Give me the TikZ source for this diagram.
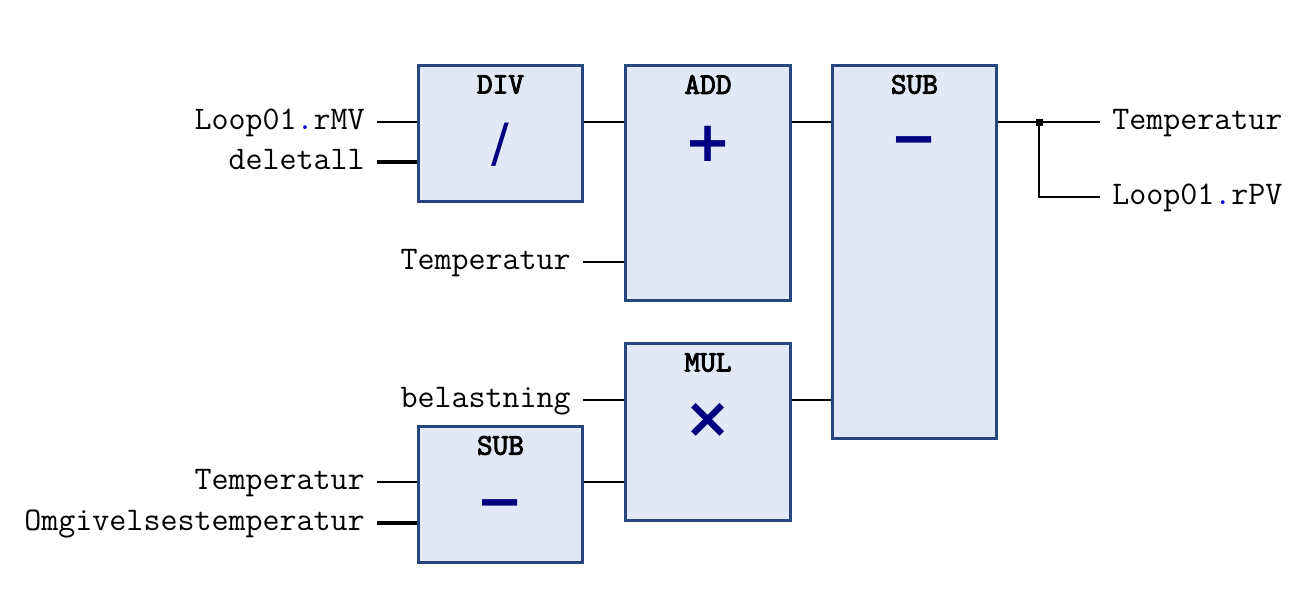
\documentclass[tikz,border=0pt]{standalone}
\usepackage{fontspec}
\newfontfamily\opfont{DejaVu Sans}
\newfontfamily\titlefont{lmmono10-regular}[Extension=.otf,FakeBold=3]
\usetikzlibrary{positioning,calc}
\definecolor{blockfill}{RGB}{225,233,246}
\definecolor{blockline}{RGB}{38,70,125}
\definecolor{opnavy}{RGB}{0,0,128}
\definecolor{dotblue}{RGB}{0,0,230}
\newcommand{\dotb}{\textcolor{dotblue}{.}}
\tikzset{
  fblock/.style={draw=blockline,line width=1.7pt,fill=blockfill,minimum width=3.3cm,inner sep=0pt},
  ftitle/.style={font=\titlefont\fontsize{17}{20}\selectfont,inner sep=0pt},
  fop/.style={font=\opfont\bfseries\fontsize{32}{36}\selectfont,text=opnavy,inner sep=0pt},
  pin/.style={font=\ttfamily\fontsize{18.8}{22}\selectfont,inner xsep=0.24cm,inner ysep=0pt,text height=14pt,text depth=6pt},
  wire/.style={draw=black,line width=1.1pt},
  fatwire/.style={draw=black,line width=2pt},
  junction/.style={fill=black,minimum size=0.14cm,inner sep=0pt}
}
\begin{document}
\begin{tikzpicture}[x=0.02cm,y=-0.02cm]
  \useasboundingbox (0,0) rectangle (1306,592);

  % function blocks
  \node[fblock,minimum height=2.74cm] (div) at (500.5,133.5) {};
  \node[fblock,minimum width=3.32cm,minimum height=4.72cm] (add) at (708,183) {};
  \node[fblock,minimum height=7.48cm] (sub) at (914.5,252) {};
  \node[fblock,minimum width=3.32cm,minimum height=3.56cm] (mul) at (708,432) {};
  \node[fblock,minimum height=2.74cm] (subt) at (500.5,494.5) {};

  % titles and operators
  \node[ftitle] (div-t) at ([yshift=-0.42cm]div.north) {DIV};
  \node[ftitle] (add-t) at ([yshift=-0.42cm]add.north) {ADD};
  \node[ftitle] (sub-t) at ([yshift=-0.42cm]sub.north) {SUB};
  \node[ftitle] (mul-t) at ([yshift=-0.42cm]mul.north) {MUL};
  \node[ftitle] (subt-t) at ([yshift=-0.42cm]subt.north) {SUB};
  \node[fop,font=\opfont\fontsize{30}{34}\selectfont] (div-o) at ([yshift=-1.63cm]div.north) {/};
  \node[fop] (add-o) at ([yshift=-1.6cm]add.north) {+};
  \node[fop] (sub-o) at ([yshift=-1.68cm]sub.north) {−};
  \node[fop] (mul-o) at ([yshift=-1.58cm]mul.north) {×};
  \node[fop] (subt-o) at ([yshift=-1.72cm]subt.north) {−};

  % inputs and outputs
  \node[pin,anchor=east] (mv) at (377,122) {Loop01\dotb rMV};
  \node[pin,anchor=east] (delt) at (377,162) {deletall};
  \node[pin,anchor=east] (temp) at (583,262) {Temperatur};
  \node[pin,anchor=east] (bel) at (583,400) {belastning};
  \node[pin,anchor=east] (tmp) at (377,482) {Temperatur};
  \node[pin,anchor=east] (omg) at (377,523) {Omgivelsestemperatur};
  \node[pin,anchor=west] (tout) at (1100,122) {Temperatur};
  \node[pin,anchor=west] (pv) at (1100,197) {Loop01\dotb rPV};
  \coordinate (jn) at (1039,122);

  \draw[wire] (mv.east) -- (mv.east -| div.west);
  \draw[fatwire] (delt.east) -- (delt.east -| div.west);
  \draw[wire] (div.east |- mv.east) -- (add.west |- mv.east);
  \draw[wire] (temp.east) -- (temp.east -| add.west);
  \draw[wire] (add.east |- mv.east) -- (sub.west |- mv.east);
  \draw[wire] (bel.east) -- (bel.east -| mul.west);
  \draw[wire] (tmp.east) -- (tmp.east -| subt.west);
  \draw[fatwire] (omg.east) -- (omg.east -| subt.west);
  \draw[wire] (subt.east |- tmp.east) -- (mul.west |- tmp.east);
  \draw[wire] (mul.east |- bel.east) -- (sub.west |- bel.east);
  \draw[wire] (sub.east |- tout.west) -- (tout.west);
  \draw[wire] (jn) |- (pv.west);
  \node[junction] at (jn) {};
\end{tikzpicture}
\end{document}
